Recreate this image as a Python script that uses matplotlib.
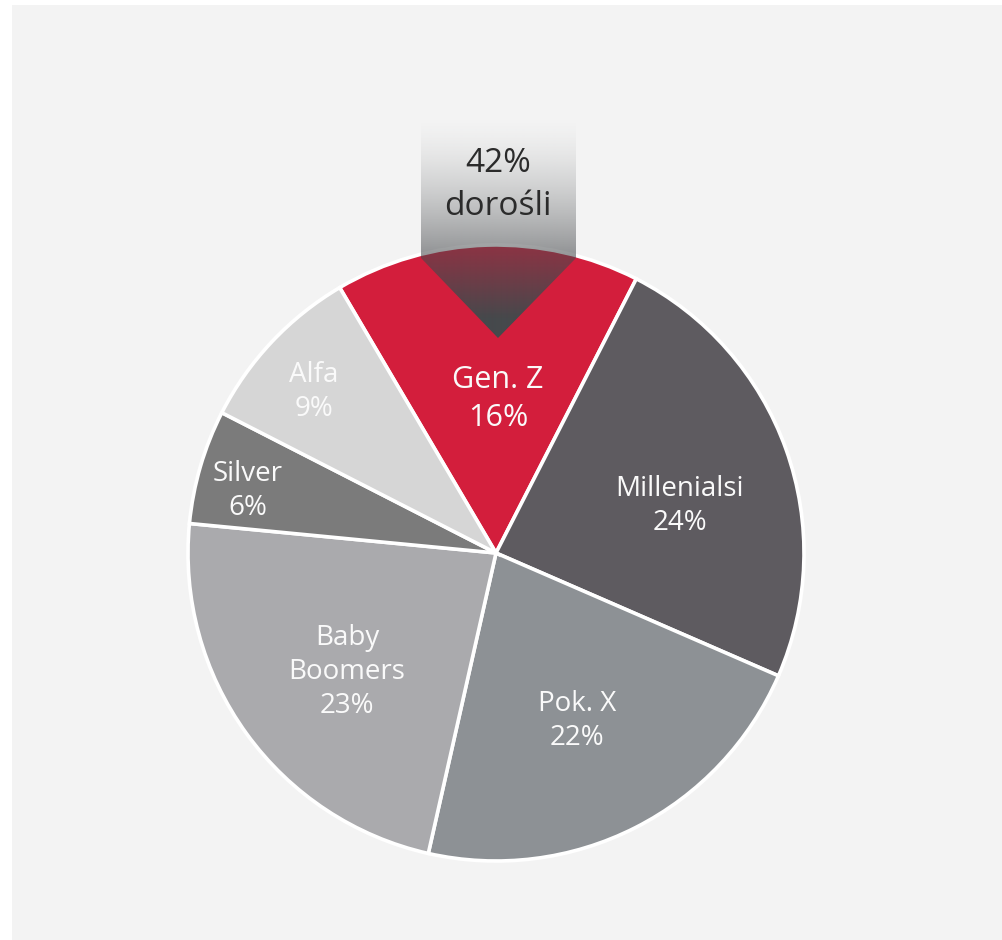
import matplotlib
matplotlib.use("Agg")
import matplotlib.pyplot as plt
import numpy as np
from matplotlib.patches import Polygon, Rectangle
from matplotlib.colors import to_rgb

# generations share (%)
names = ["Gen. Z", "Millenialsi", "Pok. X", "Baby\nBoomers", "Silver", "Alfa"]
shares = [16, 24, 22, 23, 6, 9]
colors = ["#d31e3c", "#5e5b60", "#8d9195", "#aaaaad", "#7b7b7b", "#d6d6d6"]
adults_share = 42
adults_label = "dorośli"

W, H = 1002, 940
CX, CY, R = 496, 553, 308


def py(y):
    # pixel row -> data y
    return H - y


# label centres in pixels
label_pos = [(498, 399), (680, 506), (577, 721), (347, 672), (248, 491), (314, 392)]

plt.rcParams["font.family"] = ["Open Sans", "DejaVu Sans"]

fig = plt.figure(figsize=(W / 100, H / 100), dpi=100, facecolor="white")
ax = fig.add_axes([0, 0, 1, 1])
ax.set_facecolor("white")

ax.add_patch(Rectangle((12, 0), W - 12, H - 5, facecolor="#f3f3f3", edgecolor="none", zorder=0))

wedges, _ = ax.pie(
    shares,
    colors=colors,
    startangle=120.5,
    counterclock=False,
    center=(CX, py(CY)),
    radius=R,
    wedgeprops=dict(edgecolor="white", linewidth=2.6),
)
for w in wedges:
    w.set_zorder(2)

for name, share, (lx, ly) in zip(names, shares, label_pos):
    fs = 22 if name == "Gen. Z" else 20
    ls = 1.37 if name == "Gen. Z" else 1.3
    ax.text(lx, py(ly), f"{name}\n{share}%", ha="center", va="center",
            color="#fafafa", fontsize=fs, linespacing=ls, zorder=5)

# gradient arrow
top, bend, tip = 118, 258, 338
x0, x1, xm = 421, 576, 498
rows = tip - top
grad = np.zeros((rows, 10, 4))
t = np.clip(np.linspace(0, 1, rows) * rows / 200.0, 0, 1) ** 1.5
grad[..., :3] = to_rgb("#46494c")
grad[..., 3] = t[:, None]
im = ax.imshow(grad, extent=(x0, x1, py(tip), py(top)), origin="upper",
               interpolation="bilinear", zorder=3)
arrow = Polygon([(x0, py(top)), (x1, py(top)), (x1, py(bend)), (xm, py(tip)), (x0, py(bend))],
                closed=True, facecolor="none", edgecolor="none", transform=ax.transData)
ax.add_patch(arrow)
im.set_clip_path(arrow)

ax.text(xm, py(185), f"{adults_share}%\n{adults_label}", ha="center", va="center",
        color="#2b2b2b", fontsize=24, linespacing=1.38, zorder=6)

ax.set_xlim(0, W)
ax.set_ylim(0, H)
ax.set_aspect("equal")
ax.axis("off")

fig.savefig("out.png", dpi=100, facecolor="white")
